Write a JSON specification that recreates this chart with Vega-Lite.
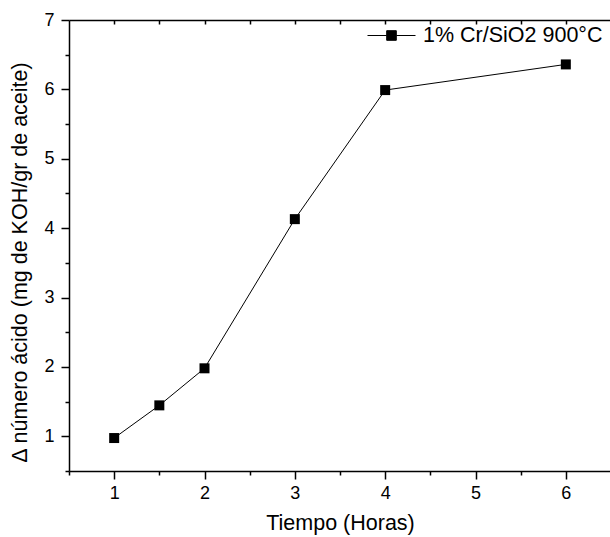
{
  "$schema": "https://vega.github.io/schema/vega-lite/v6.json",
  "width": 542,
  "height": 451,
  "autosize": {"type": "none"},
  "padding": {"left": 69, "top": 20, "right": 0, "bottom": 66},
  "background": "white",
  "config": {
    "font": "Liberation Sans",
    "view": {"stroke": null},
    "axis": {
      "grid": false,
      "domainColor": "black",
      "domainWidth": 1.5,
      "tickColor": "black",
      "tickWidth": 1.5,
      "labelColor": "black",
      "labelFont": "Liberation Sans",
      "labelFontSize": 18,
      "titleFont": "Liberation Sans",
      "titleFontSize": 21.5,
      "titleFontWeight": "normal",
      "titleColor": "black"
    }
  },
  "data": {
    "values": [
      {"t": 1, "v": 0.975, "s": "1% Cr/SiO2 900°C"},
      {"t": 1.5, "v": 1.446, "s": "1% Cr/SiO2 900°C"},
      {"t": 2, "v": 1.98, "s": "1% Cr/SiO2 900°C"},
      {"t": 3, "v": 4.13, "s": "1% Cr/SiO2 900°C"},
      {"t": 4, "v": 5.99, "s": "1% Cr/SiO2 900°C"},
      {"t": 6, "v": 6.36, "s": "1% Cr/SiO2 900°C"}
    ]
  },
  "resolve": {"axis": {"x": "independent", "y": "independent"}},
  "layer": [
    {
      "mark": {"type": "line", "color": "black", "strokeWidth": 1},
      "encoding": {
        "x": {
          "field": "t", "type": "quantitative",
          "scale": {"domain": [0.5, 6.5], "nice": false, "zero": false},
          "axis": {"orient": "bottom", "title": "Tiempo (Horas)", "values": [1, 2, 3, 4, 5, 6], "tickSize": 8, "labelPadding": 5, "titlePadding": 10, "format": "d"}
        },
        "y": {
          "field": "v", "type": "quantitative",
          "scale": {"domain": [0.5, 7], "nice": false, "zero": false},
          "axis": {"orient": "left", "title": "Δ número ácido (mg de KOH/gr de aceite)", "values": [1, 2, 3, 4, 5, 6, 7], "tickSize": 8, "labelPadding": 7, "titlePadding": 12, "titleY": 242, "format": "d"}
        }
      }
    },
    {
      "mark": {"type": "point", "shape": "square", "filled": true, "size": 100, "opacity": 1},
      "encoding": {
        "x": {
          "field": "t", "type": "quantitative",
          "axis": {"orient": "bottom", "title": null, "labels": false, "domain": false, "values": [0.5, 1.5, 2.5, 3.5, 4.5, 5.5, 6.5], "tickSize": 4}
        },
        "y": {
          "field": "v", "type": "quantitative",
          "axis": {"orient": "left", "title": null, "labels": false, "domain": false, "values": [0.5, 1.5, 2.5, 3.5, 4.5, 5.5, 6.5], "tickSize": 4}
        },
        "color": {
          "field": "s", "type": "nominal",
          "scale": {"range": ["black"]},
          "legend": {
            "orient": "none",
            "legendX": 298,
            "legendY": -9,
            "title": null,
            "padding": 0,
            "symbolType": "M-1,0H-0.2M-0.2,-0.2H0.2V0.2H-0.2ZM0.2,0H1",
            "symbolSize": 2304,
            "symbolStrokeWidth": 1,
            "symbolStrokeColor": "black",
            "symbolFillColor": "black",
            "labelFont": "Liberation Sans",
            "labelFontSize": 21.5,
            "labelColor": "black",
            "labelOffset": 7,
            "labelLimit": 300
          }
        }
      }
    },
    {
      "mark": {"type": "point", "opacity": 0},
      "encoding": {
        "x": {
          "field": "t", "type": "quantitative",
          "axis": {"orient": "top", "title": null, "labels": false, "values": [1, 1.5, 2, 2.5, 3, 3.5, 4, 4.5, 5, 5.5, 6], "tickSize": -4}
        },
        "y": {
          "field": "v", "type": "quantitative",
          "axis": null
        }
      }
    }
  ]
}
